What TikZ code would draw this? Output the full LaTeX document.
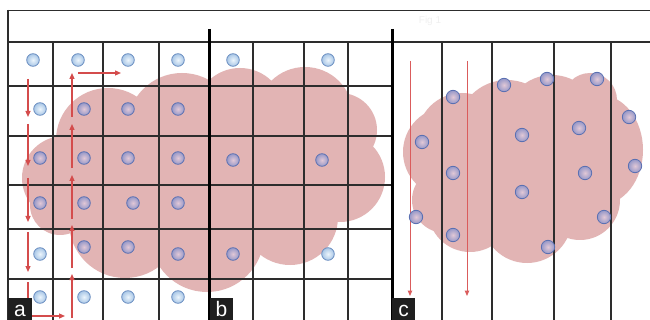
\documentclass[tikz,border=0pt]{standalone}
\usepackage{fontspec}
\setmainfont{Liberation Sans}
\usetikzlibrary{arrows.meta}
\definecolor{cloudpink}{RGB}{226,180,180}
\definecolor{gridc}{RGB}{45,45,45}
\definecolor{arrowred}{RGB}{212,76,76}
\definecolor{arrowredc}{RGB}{218,92,92}
\definecolor{ballin}{RGB}{236,245,252}
\definecolor{ballout}{RGB}{168,198,230}
\definecolor{balledge}{RGB}{104,140,192}
\definecolor{pin}{RGB}{226,200,214}
\definecolor{pout}{RGB}{150,152,200}
\definecolor{pedge}{RGB}{90,112,178}
\begin{document}
\begin{tikzpicture}[x=1pt,y=-1pt,
  thingrid/.style={draw=gridc,line width=1.1pt},
  thickgrid/.style={draw=black,line width=3pt},
  dotout/.style={circle,minimum size=12.6pt,inner sep=0pt,draw=balledge,line width=0.8pt,inner color=ballin,outer color=ballout},
  dotin/.style={circle,minimum size=12.6pt,inner sep=0pt,draw=pedge,line width=0.8pt,inner color=pin,outer color=pout},
  dotc/.style={dotin,minimum size=13.4pt},
  redarrow/.style={draw=arrowred,line width=1.2pt,-{Triangle[length=6pt,width=5pt]}},
  redline/.style={draw=arrowredc,line width=1pt,-{Triangle[length=5.5pt,width=4.5pt]}},
  panellabel/.style={fill=black!88,text=white,font=\fontsize{21}{21}\selectfont,inner sep=0pt,
    minimum width=23.5pt,minimum height=22pt,text height=15pt,text depth=0pt,anchor=south}
]
\useasboundingbox (0,0) rectangle (650,320);
\clip (0,0) rectangle (650,320);
\fill[white] (0,0) rectangle (650,320);

% clouds
\fill[cloudpink]
  (108,140) circle (52pt) (182,128) circle (55pt) (240,113) circle (45pt)
  (305,115) circle (48pt) (340,130) circle (37pt) (340,177) circle (45pt)
  (290,217) circle (48pt) (207,235) circle (57pt) (125,222) circle (56pt)
  (60,205) circle (30pt) (64,178) circle (42pt)
  (200,180) ellipse (150pt and 80pt);
\fill[cloudpink]
  (448,152) circle (45pt) (462,138) circle (45pt) (507,130) circle (50pt)
  (552,122) circle (47pt) (590,100) circle (27pt) (600,150) ellipse (43pt and 55pt)
  (580,200) circle (40pt) (527,218) circle (45pt) (470,210) circle (42pt)
  (445,200) circle (33pt) (525,170) ellipse (95pt and 60pt);

% faint caption
\node[text=black!6,font=\fontsize{10}{10}\selectfont] (fig) at (430,21) {Fig 1};

% frame and grid
\draw[thingrid] (8,10.5) -- (650,10.5);
\draw[thingrid] (8,42) -- (650,42);
\draw[draw=gridc,line width=1.8pt] (8,10) -- (8,320);
\foreach \y in {86,136,185,229,279} \draw[thingrid] (8,\y) -- (392,\y);
\foreach \x in {53,103,159,253,304,348,442,492,554,611} \draw[thingrid] (\x,42) -- (\x,320);
\draw[thickgrid] (209.5,29) -- (209.5,320);
\draw[thickgrid] (392,29) -- (392,320);

% red arrows panel a
\foreach \i/\s/\e in {1/79/117,2/124/166,3/178/222,4/232/272}{
  \coordinate (ls\i) at (28,\s); \coordinate (le\i) at (28,\e);
  \draw[redarrow] (ls\i) -- (le\i);
}
\coordinate (ls5) at (28,282); \coordinate (le5) at (65,316);
\draw[redarrow] (ls5) |- (le5);
\foreach \i/\s/\e in {1/318/274,2/268/225,3/219/175,4/168/124,5/117/73}{
  \coordinate (us\i) at (72,\s); \coordinate (ue\i) at (72,\e);
  \draw[redarrow] (us\i) -- (ue\i);
}
\coordinate (hs) at (78,73); \coordinate (he) at (121,73);
\draw[redarrow] (hs) -- (he);

% red lines panel c
\coordinate (c1s) at (410,61); \coordinate (c1e) at (410,296);
\coordinate (c2s) at (467,61); \coordinate (c2e) at (467,296);
\draw[redline] (c1s) -- (c1e);
\draw[redline] (c2s) -- (c2e);

% dots panel a
\node[dotout] (a11) at (33,60) {};
\node[dotout] (a12) at (78,60) {};
\node[dotout] (a13) at (128,60) {};
\node[dotout] (a14) at (178,60) {};
\node[dotout] (a21) at (40,109) {};
\node[dotin] (a22) at (84,109) {};
\node[dotin] (a23) at (128,109) {};
\node[dotin] (a24) at (178,109) {};
\node[dotin] (a31) at (40,158) {};
\node[dotin] (a32) at (84,158) {};
\node[dotin] (a33) at (128,158) {};
\node[dotin] (a34) at (178,158) {};
\node[dotin] (a41) at (40,203) {};
\node[dotin] (a42) at (84,203) {};
\node[dotin] (a43) at (133,203) {};
\node[dotin] (a44) at (178,203) {};
\node[dotout] (a51) at (40,254) {};
\node[dotin] (a52) at (84,247) {};
\node[dotin] (a53) at (128,247) {};
\node[dotin] (a54) at (178,254) {};
\node[dotout] (a61) at (40,297) {};
\node[dotout] (a62) at (84,297) {};
\node[dotout] (a63) at (128,297) {};
\node[dotout] (a64) at (178,297) {};

% dots panel b
\node[dotout] (b11) at (233,60) {};
\node[dotout] (b12) at (328,60) {};
\node[dotin] (b21) at (233,160) {};
\node[dotin] (b22) at (322,160) {};
\node[dotin] (b31) at (233,254) {};
\node[dotout] (b32) at (328,254) {};

% dots panel c
\foreach \n/\x/\y in {1/422/142,2/453/97,3/504/85,4/547/79,5/597/79,6/629/117,7/522/135,8/579/128,
  9/453/173,10/522/192,11/585/173,12/635/166,13/416/217,14/453/235,15/548/247,16/604/217}
  \node[dotc] (c\n) at (\x,\y) {};

% panel labels
\node[panellabel] (la) at (20,320) {a};
\node[panellabel] (lb) at (221.5,320) {b};
\node[panellabel] (lc) at (403.5,320) {c};
\end{tikzpicture}
\end{document}
